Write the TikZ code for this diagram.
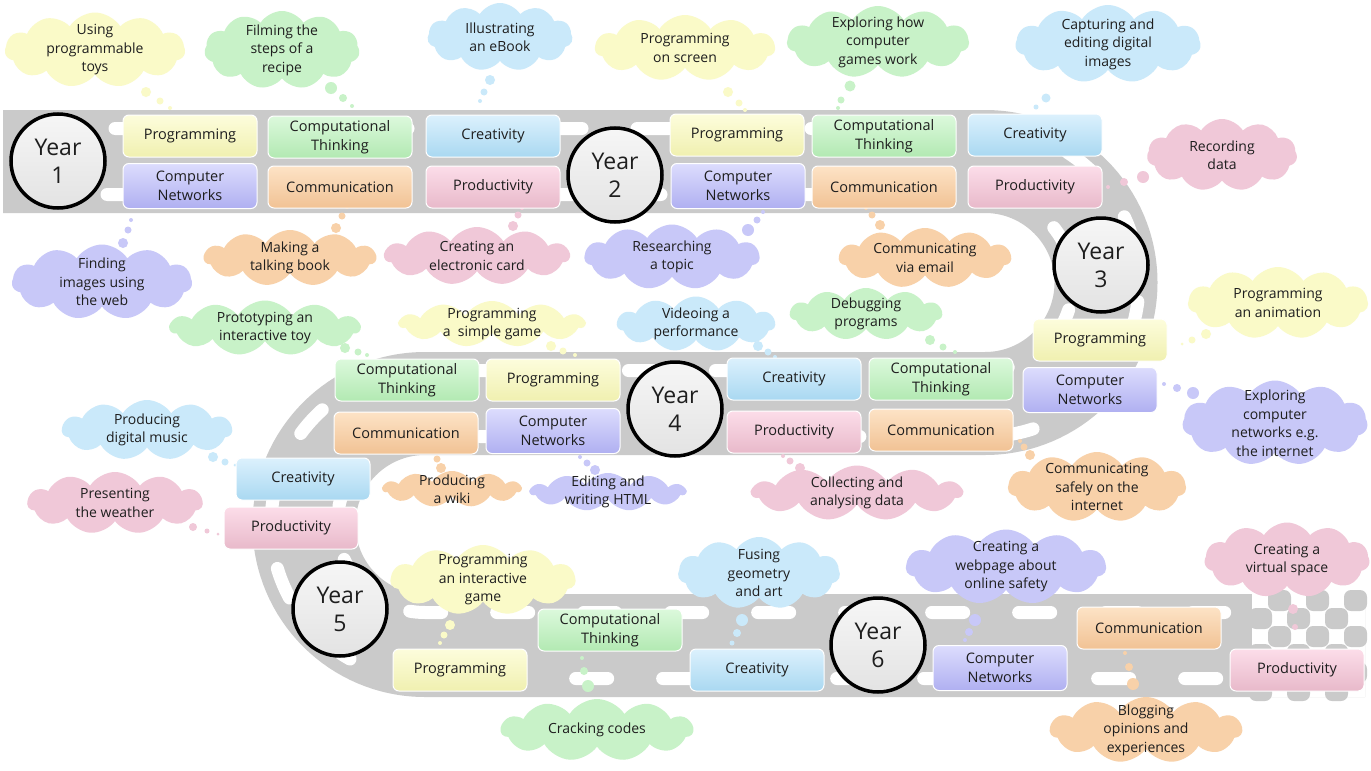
\documentclass[tikz,border=0pt]{standalone}
\usepackage{fontspec}
\setmainfont{Open Sans}
\usetikzlibrary{shapes.symbols}
\definecolor{roadgray}{HTML}{CACACA}
\definecolor{txt}{HTML}{1E1E1E}
% box gradients
\definecolor{yelT}{HTML}{FDFDDC}\definecolor{yelB}{HTML}{F0F0B0}
\definecolor{grnT}{HTML}{DCF9DC}\definecolor{grnB}{HTML}{B2E9B2}
\definecolor{bluT}{HTML}{DCF1FD}\definecolor{bluB}{HTML}{A9D8F1}
\definecolor{purT}{HTML}{DCDCFD}\definecolor{purB}{HTML}{B0B0F1}
\definecolor{orgT}{HTML}{FDE3C6}\definecolor{orgB}{HTML}{F1C294}
\definecolor{pnkT}{HTML}{FCDDE9}\definecolor{pnkB}{HTML}{E8B9CA}
% cloud colours
\definecolor{cY}{HTML}{FAFAC8}
\definecolor{cG}{HTML}{C8F2C8}
\definecolor{cB}{HTML}{CAE9FA}
\definecolor{cP}{HTML}{F0C8D8}
\definecolor{cO}{HTML}{F8D1A9}
\definecolor{cU}{HTML}{C8C8F8}
\newcommand{\BoxFont}{\fontsize{14.5}{19}\selectfont}
\newcommand{\CloudFont}{\fontsize{14}{18.5}\selectfont}
\newcommand{\YearFont}{\fontsize{23}{28}\selectfont}
\tikzset{
  catbox/.style={rounded corners=6pt, draw=white, line width=1pt, minimum width=134pt,
    minimum height=42pt, align=center, font=\BoxFont, text=txt, inner sep=1pt},
  yel/.style={catbox, top color=yelT, bottom color=yelB},
  grn/.style={catbox, top color=grnT, bottom color=grnB, minimum width=144pt},
  blu/.style={catbox, top color=bluT, bottom color=bluB},
  pur/.style={catbox, top color=purT, bottom color=purB, minimum height=45pt},
  org/.style={catbox, top color=orgT, bottom color=orgB, minimum width=144pt},
  pnk/.style={catbox, top color=pnkT, bottom color=pnkB},
  cl/.style={cloud, cloud puffs=11, cloud puff arc=115, cloud ignores aspect, fill=#1, draw=none, inner sep=0pt},
  ctext/.style={align=center, font=\CloudFont, text=txt, inner sep=0pt},
  yr/.style={circle, draw=black, line width=3.5pt, minimum size=94pt, top color=gray!7, bottom color=gray!22,
    font=\YearFont, align=center, text=txt, inner sep=0pt},
  lane/.style={white, line width=13pt, line cap=round, dash pattern=on 32pt off 55pt}
}
\begin{document}
\begin{tikzpicture}[x=1pt,y=-1pt]
\useasboundingbox (0,0) rectangle (1371,771);
\fill[white] (0,0) rectangle (1371,771);
% ---------------- road ----------------
\draw[roadgray, line width=103pt] (3,161.5) -- (985,161.5) arc[start angle=-90,end angle=90,radius=121]
  -- (425,403.5) arc[start angle=-90,end angle=-270,radius=121] -- (1365,645.5);
\draw[lane, dash phase=-5pt] (110,128.5) -- (985,128.5) arc[start angle=-90,end angle=90,radius=154]
  -- (425,436.5) arc[start angle=-90,end angle=-270,radius=88] -- (1300,612.5);
\draw[lane, dash phase=20pt] (40,194.5) -- (985,194.5) arc[start angle=-90,end angle=90,radius=88]
  -- (425,370.5) arc[start angle=-90,end angle=-270,radius=154] -- (1300,678.5);
% finish area
\fill[white] (1252,593) rectangle (1365,697);
\foreach \i in {0,...,5}{\foreach \j in {0,...,5}{
  \pgfmathtruncatemacro\chk{mod(\i+\j,2)}
  \ifnum\chk=1 \fill[roadgray, rounded corners=7pt] ({1249+\i*19},{590+\j*18}) rectangle +(23,21);\fi}}
% ---------------- clouds ----------------
\node[cl=cY, minimum width=180pt, minimum height=75pt] (c1) at (95,50) {};
\node[ctext] at (c1) {Using\\programmable\\toys};
\node[cl=cG, minimum width=155pt, minimum height=78pt] (c2) at (282,50) {};
\node[ctext] at (c2) {Filming the\\steps of a\\recipe};
\node[cl=cB, minimum width=145pt, minimum height=68pt] (c3) at (500,37) {};
\node[ctext] at (c3) {Illustrating\\an eBook};
\node[cl=cY, minimum width=180pt, minimum height=66pt] (c4) at (685,48) {};
\node[ctext] at (c4) {Programming\\on screen};
\node[cl=cG, minimum width=182pt, minimum height=72pt] (c5) at (878,42) {};
\node[ctext] at (c5) {Exploring how\\computer\\games work};
\node[cl=cB, minimum width=185pt, minimum height=78pt] (c6) at (1108,44) {};
\node[ctext] at (c6) {Capturing and\\editing digital\\images};
\node[cl=cP, minimum width=150pt, minimum height=72pt] (c7) at (1222,155) {};
\node[ctext] at (c7) {Recording\\data};
\node[cl=cU, minimum width=180pt, minimum height=75pt] (c8) at (102,282) {};
\node[ctext] at (c8) {Finding\\images using\\the web};
\node[cl=cO, minimum width=172pt, minimum height=56pt] (c9) at (290,258) {};
\node[ctext] at (c9) {Making a\\talking book};
\node[cl=cP, minimum width=185pt, minimum height=58pt] (c10) at (477,256) {};
\node[ctext] at (c10) {Creating an\\electronic card};
\node[cl=cU, minimum width=175pt, minimum height=65pt] (c11) at (672,257) {};
\node[ctext] at (c11) {Researching\\a topic};
\node[cl=cO, minimum width=172pt, minimum height=60pt] (c12) at (925,258) {};
\node[ctext] at (c12) {Communicating\\via email};
\node[cl=cY, minimum width=180pt, minimum height=72pt] (c13) at (1278,303) {};
\node[ctext] at (c13) {Programming\\an animation};
\node[cl=cG, minimum width=190pt, minimum height=55pt] (c14) at (265,328) {};
\node[ctext] at (c14) {Prototyping an\\interactive toy};
\node[cl=cY, minimum width=185pt, minimum height=46pt] (c15) at (492,324) {};
\node[ctext] at (c15) {Programming\\a\ \ simple game};
\node[cl=cB, minimum width=158pt, minimum height=55pt] (c16) at (696,324) {};
\node[ctext] at (c16) {Videoing a\\performance};
\node[cl=cG, minimum width=152pt, minimum height=52pt] (c17) at (866,314) {};
\node[ctext] at (c17) {Debugging\\programs};
\node[cl=cU, minimum width=185pt, minimum height=85pt] (c18) at (1275,423) {};
\node[ctext] at (c18) {Exploring\\computer\\networks e.g.\\the internet};
\node[cl=cB, minimum width=170pt, minimum height=60pt] (c19) at (147,430) {};
\node[ctext] at (c19) {Producing\\digital music};
\node[cl=cP, minimum width=175pt, minimum height=62pt] (c20) at (115,503) {};
\node[ctext] at (c20) {Presenting\\the weather};
\node[cl=cO, minimum width=138pt, minimum height=36pt] (c21) at (452,489) {};
\node[ctext] at (c21) {Producing\\a wiki};
\node[cl=cU, minimum width=155pt, minimum height=38pt] (c22) at (608,492) {};
\node[ctext] at (c22) {Editing and\\writing HTML};
\node[cl=cP, minimum width=210pt, minimum height=55pt] (c23) at (857,493) {};
\node[ctext] at (c23) {Collecting and\\analysing data};
\node[cl=cO, minimum width=178pt, minimum height=70pt] (c24) at (1097,487) {};
\node[ctext] at (c24) {Communicating\\safely on the\\internet};
\node[cl=cY, minimum width=185pt, minimum height=70pt] (c25) at (483,580) {};
\node[ctext] at (c25) {Programming\\an interactive\\game};
\node[cl=cB, minimum width=162pt, minimum height=72pt] (c26) at (759,573) {};
\node[ctext] at (c26) {Fusing\\geometry\\and art};
\node[cl=cU, minimum width=200pt, minimum height=75pt] (c27) at (1006,567) {};
\node[ctext] at (c27) {Creating a\\webpage about\\online safety};
\node[cl=cP, minimum width=165pt, minimum height=75pt] (c28) at (1287,560) {};
\node[ctext] at (c28) {Creating a\\virtual space};
\node[cl=cG, minimum width=192pt, minimum height=62pt] (c29) at (597,730) {};
\node[ctext] at (c29) {Cracking codes};
\node[cl=cO, minimum width=192pt, minimum height=66pt] (c30) at (1146,730) {};
\node[ctext] at (c30) {Blogging\\opinions and\\experiences};
% ---------------- thought bubbles ----------------
\fill[cY] (146,92) circle[radius=5] (160,101) circle[radius=3.5] (170,108) circle[radius=2];
\fill[cG] (331,88) circle[radius=6] (343,98) circle[radius=4] (352,106) circle[radius=2];
\fill[cB] (490,80) circle[radius=5] (484,92) circle[radius=3.5] (480,101) circle[radius=2];
\fill[cY] (728,92) circle[radius=5] (739,103) circle[radius=3.5] (745,110) circle[radius=2];
\fill[cG] (850,86) circle[radius=5.5] (841,100) circle[radius=3.5] (838,108) circle[radius=2];
\fill[cB] (1046,98) circle[radius=4.5] (1036,107) circle[radius=2.5];
\fill[cP] (1143,177) circle[radius=6] (1124,182) circle[radius=4] (1108,187) circle[radius=2];
\fill[cU] (123,243) circle[radius=5] (128,230) circle[radius=3.5] (131,220) circle[radius=2];
\fill[cO] (336,228) circle[radius=5] (342,216) circle[radius=3.5] (347,207) circle[radius=2];
\fill[cP] (513,226) circle[radius=5] (518,215) circle[radius=3.5] (522,208) circle[radius=2];
\fill[cU] (748,230) circle[radius=6] (757,220) circle[radius=3.5] (763,212) circle[radius=2];
\fill[cO] (880,225) circle[radius=5] (872,215) circle[radius=3.5] (866,208) circle[radius=2];
\fill[cY] (1206,334) circle[radius=5] (1192,340) circle[radius=3.5] (1182,344) circle[radius=1.5];
\fill[cG] (345,348) circle[radius=5] (358,352) circle[radius=3.5] (367,355) circle[radius=2];
\fill[cY] (551,346) circle[radius=5] (563,351) circle[radius=3.5] (575,355) circle[radius=2];
\fill[cB] (758,346) circle[radius=5] (768,352) circle[radius=3.5] (775,357) circle[radius=2];
\fill[cG] (930,340) circle[radius=5] (943,347) circle[radius=3.5] (955,352) circle[radius=2];
\fill[cU] (1193,393) circle[radius=6] (1177,388) circle[radius=4] (1164,384) circle[radius=2];
\fill[cB] (213,457) circle[radius=5] (225,462) circle[radius=3.5] (235,465) circle[radius=1.5];
\fill[cP] (193,527) circle[radius=4] (207,531) circle[radius=2.5] (218,534) circle[radius=1.5];
\fill[cO] (441,468) circle[radius=5] (437,459) circle[radius=3.5] (435,452) circle[radius=2];
\fill[cU] (595,470) circle[radius=5] (587,463) circle[radius=3.5] (580,457) circle[radius=2];
\fill[cP] (800,468) circle[radius=5] (790,461) circle[radius=3.5] (783,456) circle[radius=2];
\fill[cO] (1030,455) circle[radius=5] (1024,447) circle[radius=3.5] (1020,441) circle[radius=2];
\fill[cY] (450,625) circle[radius=5] (444,635) circle[radius=3.5] (440,643) circle[radius=2];
\fill[cB] (742,620) circle[radius=6] (737,633) circle[radius=4] (732,643) circle[radius=2.5];
\fill[cU] (975,620) circle[radius=6] (969,632) circle[radius=4] (965,640) circle[radius=2];
\fill[cP] (1293,609) circle[radius=5] (1295,627) circle[radius=3];
\fill[cG] (588,686) circle[radius=6] (584,671) circle[radius=4] (582,658) circle[radius=2];
\fill[cO] (1133,684) circle[radius=6] (1129,667) circle[radius=4] (1125,653) circle[radius=2];
% ---------------- category boxes ----------------
% Year 1
\node[yel] (p1)  at (190,136) {Programming};
\node[grn] (ct1) at (340,137) {Computational\\Thinking};
\node[blu] (cr1) at (493,136) {Creativity};
\node[pur] (cn1) at (190,186) {Computer\\Networks};
\node[org] (cm1) at (340,187) {Communication};
\node[pnk] (pr1) at (493,187) {Productivity};
% Year 2
\node[yel] (p2)  at (737,135) {Programming};
\node[grn] (ct2) at (884,136) {Computational\\Thinking};
\node[blu] (cr2) at (1035,135) {Creativity};
\node[pur] (cn2) at (738,186) {Computer\\Networks};
\node[org] (cm2) at (884,187) {Communication};
\node[pnk] (pr2) at (1035,187) {Productivity};
% Year 3
\node[yel] (p3)  at (1100,340) {Programming};
\node[pur] (cn3) at (1090,390) {Computer\\Networks};
% Year 4
\node[grn] (ct4) at (407,380) {Computational\\Thinking};
\node[yel] (p4)  at (553,380) {Programming};
\node[org] (cm4) at (406,433) {Communication};
\node[pur] (cn4) at (553,431) {Computer\\Networks};
\node[blu] (cr4) at (794,379) {Creativity};
\node[grn] (ct4b) at (941,379) {Computational\\Thinking};
\node[pnk] (pr4) at (794,432) {Productivity};
\node[org] (cm4b) at (941,430) {Communication};
% Year 5
\node[blu] (cr5) at (303,479) {Creativity};
\node[pnk] (pr5) at (291,528) {Productivity};
\node[yel] (p5)  at (460,670) {Programming};
\node[grn] (ct5) at (610,630) {Computational\\Thinking};
% Year 6
\node[blu] (cr6) at (757,670) {Creativity};
\node[pur] (cn6) at (1000,668) {Computer\\Networks};
\node[org] (cm6) at (1149,628) {Communication};
\node[pnk] (pr6) at (1297,670) {Productivity};
% ---------------- year circles ----------------
\node[yr] (y1) at (58,161) {Year\\1};
\node[yr] (y2) at (615,175) {Year\\2};
\node[yr] (y3) at (1101,265) {Year\\3};
\node[yr] (y4) at (675,409) {Year\\4};
\node[yr] (y5) at (340,609) {Year\\5};
\node[yr] (y6) at (878,645) {Year\\6};
\end{tikzpicture}
\end{document}
